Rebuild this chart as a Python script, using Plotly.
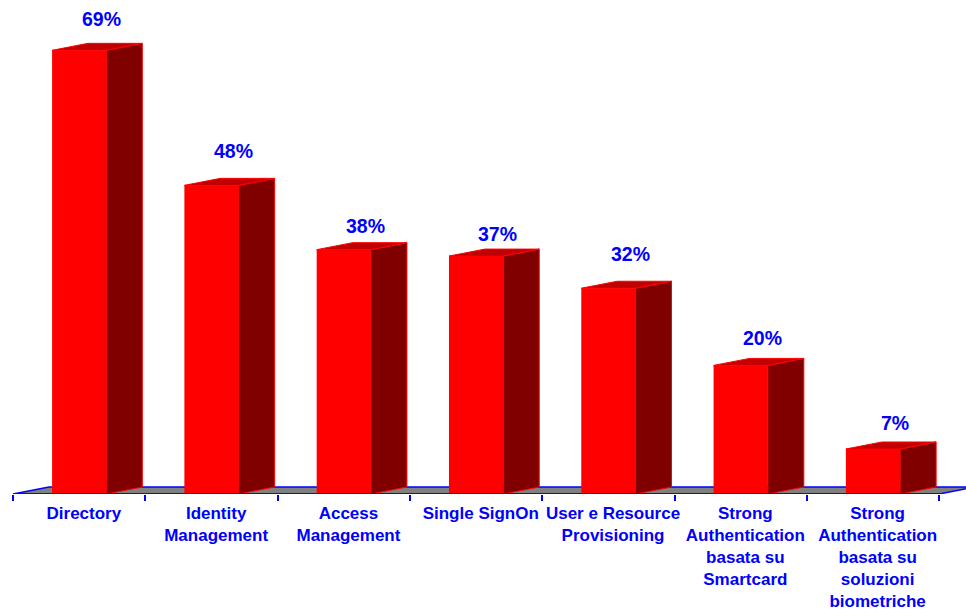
import plotly.graph_objects as go

categories = [
    "Directory",
    "Identity<br>Management",
    "Access<br>Management",
    "Single SignOn",
    "User e Resource<br>Provisioning",
    "Strong<br>Authentication<br>basata su<br>Smartcard",
    "Strong<br>Authentication<br>basata su<br>soluzioni<br>biometriche",
]
values = [69, 48, 38, 37, 32, 20, 7]
value_labels = ["69%", "48%", "38%", "37%", "32%", "20%", "7%"]

WIDTH, HEIGHT = 966, 609
BASE_PX = 494          # pixel row of the zero line
PX_PER_PCT = 6.43
CAT_PX = 132.3
FIRST_CENTER_PX = 79.2

BAR_W = 0.41           # front face width, category units
DEPTH_X = 36 / CAT_PX  # oblique depth of the extrusion
DEPTH_Y = 7 / PX_PER_PCT

RED = "#ff0000"
TOP = "#c00000"
SIDE = "#800000"
BLUE = "#0000ff"
FONT = "Liberation Sans, Arial, sans-serif"

idx = list(range(len(values)))
x_range = [-FIRST_CENTER_PX / CAT_PX, (WIDTH - FIRST_CENTER_PX) / CAT_PX]
y_range = [0, BASE_PX / PX_PER_PCT]
boundaries = [i - 0.5 for i in range(len(values) + 1)]

fig = go.Figure()

# Front faces
fig.add_trace(go.Bar(
    x=idx, y=values, width=BAR_W,
    marker=dict(color=RED, line=dict(width=0)),
    showlegend=False, hoverinfo="skip",
))

# Side and top faces of each extruded bar
for i, v in zip(idx, values):
    l, r = i - BAR_W / 2, i + BAR_W / 2
    fig.add_trace(go.Scatter(
        x=[r, r + DEPTH_X, r + DEPTH_X, r, r],
        y=[0, DEPTH_Y, v + DEPTH_Y, v, 0],
        mode="lines", fill="toself", fillcolor=SIDE,
        line=dict(color=RED, width=1),
        showlegend=False, hoverinfo="skip",
    ))
    fig.add_trace(go.Scatter(
        x=[l, l + DEPTH_X, r + DEPTH_X, r, l],
        y=[v, v + DEPTH_Y, v + DEPTH_Y, v, v],
        mode="lines", fill="toself", fillcolor=TOP,
        line=dict(color=RED, width=1),
        showlegend=False, hoverinfo="skip",
    ))

# Front edge of the floor, running along the zero line; also activates
# the overlaid axis that carries the tick marks
fig.add_trace(go.Scatter(
    x=[boundaries[0], boundaries[-1]], y=[0, 0], xaxis="x2",
    mode="lines", line=dict(color=BLUE, width=1.5), cliponaxis=False,
    showlegend=False, hoverinfo="skip",
))

# Value labels above each bar
label_shift = [24, 27, 17, 15, 27, 20, 19]
for i, v, t, s in zip(idx, values, value_labels, label_shift):
    fig.add_annotation(
        x=i + 0.165, y=v + DEPTH_Y, text=f"<b>{t}</b>", showarrow=False,
        yshift=s, yanchor="middle", xanchor="center",
        font=dict(family=FONT, size=19.5, color=BLUE),
    )

# Grey floor plane beneath the bars
fig.add_shape(
    type="path", layer="below", xref="x", yref="y",
    path=(f"M {boundaries[0]} 0 L {boundaries[0] + DEPTH_X} {DEPTH_Y} "
          f"L {boundaries[-1] + DEPTH_X} {DEPTH_Y} L {boundaries[-1]} 0 Z"),
    fillcolor="#808080", line=dict(color=BLUE, width=1.5),
)

fig.update_layout(
    width=WIDTH, height=HEIGHT,
    margin=dict(l=0, r=0, t=0, b=HEIGHT - BASE_PX, pad=0),
    paper_bgcolor="white", plot_bgcolor="white",
    showlegend=False,
    xaxis=dict(
        range=x_range, tickmode="array",
        tickvals=[i + 0.035 for i in idx],
        ticktext=[f"<b>{c}</b>" for c in categories],
        tickangle=0, ticks="", showgrid=False, zeroline=False, showline=False,
        tickfont=dict(family=FONT, size=17, color=BLUE),
        automargin=False, ticklabelstandoff=7,
    ),
    xaxis2=dict(
        range=x_range, overlaying="x", side="bottom", anchor="y",
        tickmode="array", tickvals=boundaries, ticktext=[""] * len(boundaries),
        ticks="outside", ticklen=6, tickcolor=BLUE, tickwidth=1.5,
        showgrid=False, zeroline=False, showline=False,
    ),
    yaxis=dict(range=y_range, visible=False, fixedrange=True),
)

fig.write_html("out.html", config={"displayModeBar": False})
